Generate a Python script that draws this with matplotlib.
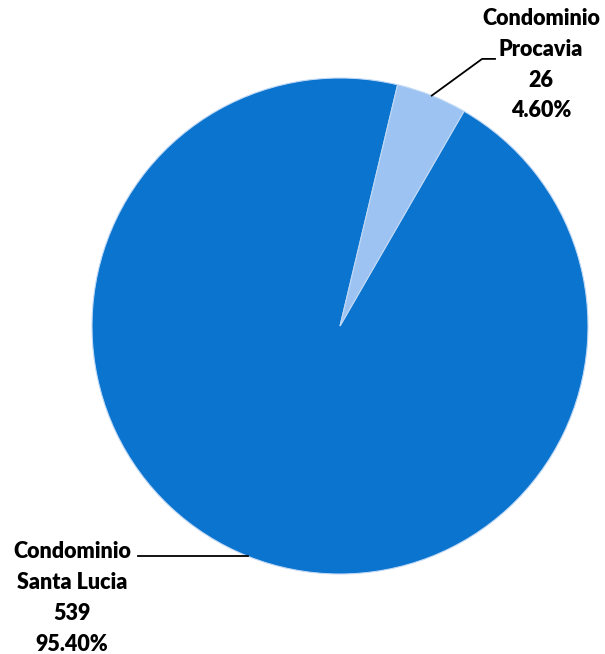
import numpy as np
import matplotlib
matplotlib.use("Agg")
import matplotlib.pyplot as plt

categories = ["Condominio\nSanta Lucia", "Condominio\nProcavia"]
values = [539, 26]
percent_labels = ["95.40%", "4.60%"]
colors = ["#0A74CE", "#9DC3F2"]

W, H = 605, 654
fig = plt.figure(figsize=(W / 100, H / 100), dpi=100)
cx, cy, r = 340, 326, 248
ax = fig.add_axes([(cx - r) / W, (H - cy - r) / H, 2 * r / W, 2 * r / H])

wedges, _ = ax.pie(values, colors=colors, startangle=60, counterclock=False,
                   radius=1, center=(0, 0),
                   wedgeprops=dict(edgecolor="#BFD8F5", linewidth=0.8))
ax.set_xlim(-1, 1)
ax.set_ylim(-1, 1)
ax.set_aspect("equal")
ax.axis("off")

font = dict(family=["Lato", "DejaVu Sans"], fontsize=15.5, fontweight="heavy",
            color="#000000", ha="center", va="center", linespacing=1.58,
            multialignment="center")

def mid_angle(w):
    return np.deg2rad((w.theta1 + w.theta2) / 2)

# Santa Lucia label (left-bottom)
a0 = mid_angle(wedges[0])
ex, ey = np.cos(a0), np.sin(a0)
ax.plot([ex, -0.815], [ey, ey], color="black", lw=1.3, clip_on=False)
ax.text(-1.08, -1.097, f"{categories[0]}\n{values[0]}\n{percent_labels[0]}",
        clip_on=False, **font)

# Procavia label (top-right)
a1 = mid_angle(wedges[1])
px, py = np.cos(a1), np.sin(a1)
ax.plot([px, 0.573, 0.625], [py, 1.077, 1.077], color="black", lw=1.3, clip_on=False)
ax.text(0.81, 1.054, f"{categories[1]}\n{values[1]}\n{percent_labels[1]}",
        clip_on=False, **font)

fig.savefig("out.png", dpi=100)
